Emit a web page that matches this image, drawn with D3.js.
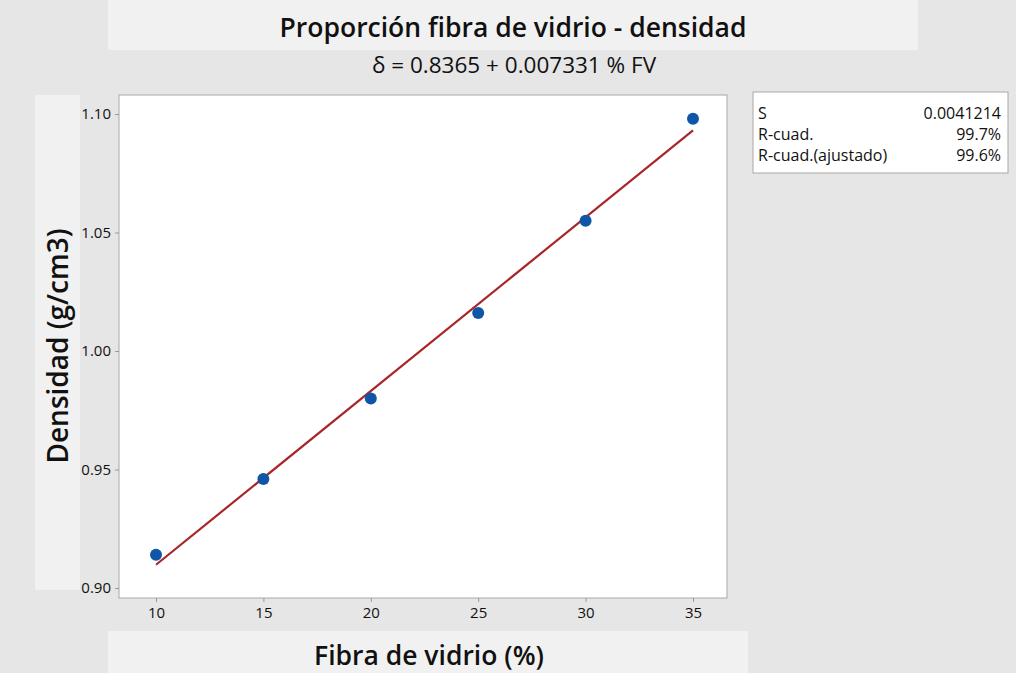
<!DOCTYPE html>
<html>
<head>
<meta charset="utf-8">
<script src="https://cdn.jsdelivr.net/npm/d3@7"></script>
<style>
  html, body { margin: 0; padding: 0; background: #e6e6e6; }
  svg { display: block; }
  text { font-family: "Open Sans", "Noto Sans", sans-serif; }
</style>
</head>
<body>
<svg id="chart" width="1016" height="673"></svg>
<script>
// Fibre-glass proportion (%) and measured density (g/cm3)
const fibra = [10, 15, 20, 25, 30, 35];
const densidad = [0.914, 0.946, 0.980, 1.016, 1.055, 1.098];

// Fitted regression line: δ = b0 + b1 · %FV
const b0 = 0.8365;
const b1 = 0.007331;

const xTicks = [10, 15, 20, 25, 30, 35];
const yTicks = [0.90, 0.95, 1.00, 1.05, 1.10];

const statLabels = ["S", "R-cuad.", "R-cuad.(ajustado)"];
const statValues = ["0.0041214", "99.7%", "99.6%"];

const W = 1016, H = 673;
const plot = { left: 119, right: 727, top: 95, bottom: 598 };

const svg = d3.select("#chart");

// background bands
svg.append("rect").attr("x", 0).attr("y", 0).attr("width", W).attr("height", H).attr("fill", "#e6e6e6");
svg.append("rect").attr("x", 108).attr("y", 0).attr("width", 810).attr("height", 50).attr("fill", "#f1f1f1");
svg.append("rect").attr("x", 35).attr("y", 95).attr("width", 45).attr("height", 495).attr("fill", "#f1f1f1");
svg.append("rect").attr("x", 108).attr("y", 631).attr("width", 640).attr("height", 42).attr("fill", "#f1f1f1");

// plot area
svg.append("rect")
  .attr("x", plot.left).attr("y", plot.top)
  .attr("width", plot.right - plot.left).attr("height", plot.bottom - plot.top)
  .attr("fill", "#ffffff").attr("stroke", "#a8a8a8").attr("stroke-width", 1);

const x = d3.scaleLinear().domain([10, 35]).range([156, 693]);
const y = d3.scaleLinear().domain([0.90, 1.10]).range([588, 114]);

// axes
const xAxis = svg.append("g")
  .attr("transform", `translate(0,${plot.bottom})`)
  .call(d3.axisBottom(x).tickValues(xTicks).tickSize(4).tickPadding(5).tickFormat(d3.format("d")));
const yAxis = svg.append("g")
  .attr("transform", `translate(${plot.left},0)`)
  .call(d3.axisLeft(y).tickValues(yTicks).tickSize(4).tickPadding(4).tickFormat(d3.format(".2f")));
[xAxis, yAxis].forEach(g => {
  g.select(".domain").remove();
  g.selectAll(".tick line").attr("stroke", "#9a9a9a");
  g.selectAll(".tick text").attr("fill", "#111").style("font-size", "15px");
});

// regression line
const fitLine = d3.line().x(d => x(d)).y(d => y(b0 + b1 * d));
svg.append("path")
  .datum([d3.min(fibra), d3.max(fibra)])
  .attr("d", fitLine)
  .attr("fill", "none").attr("stroke", "#a8262a").attr("stroke-width", 2.2);

// observations
svg.append("g").selectAll("circle")
  .data(fibra.map((f, i) => [f, densidad[i]]))
  .join("circle")
  .attr("cx", d => x(d[0])).attr("cy", d => y(d[1]))
  .attr("r", 6).attr("fill", "#0f56a8");

// titles
svg.append("text").attr("x", 513).attr("y", 37).attr("text-anchor", "middle")
  .style("font-size", "26.5px").style("font-weight", "600").attr("fill", "#111")
  .text("Proporción fibra de vidrio - densidad");
svg.append("text").attr("x", 514).attr("y", 73).attr("text-anchor", "middle")
  .style("font-size", "22.5px").attr("fill", "#111")
  .text("δ = 0.8365 + 0.007331 % FV");

svg.append("text").attr("x", 429).attr("y", 665).attr("text-anchor", "middle")
  .style("font-size", "26.5px").style("font-weight", "600").attr("fill", "#111")
  .text("Fibra de vidrio (%)");

svg.append("text")
  .attr("transform", "translate(68,346) rotate(-90)")
  .attr("text-anchor", "middle")
  .style("font-size", "28px").style("font-weight", "600").attr("fill", "#111")
  .text("Densidad (g/cm3)");

// statistics box
const box = svg.append("g").attr("transform", "translate(753,92)");
box.append("rect").attr("width", 255).attr("height", 81)
  .attr("fill", "#fff").attr("stroke", "#a8a8a8");
statLabels.forEach((s, i) => {
  box.append("text").attr("x", 5).attr("y", 27 + i * 21)
    .style("font-size", "16px").attr("fill", "#111").text(s);
  box.append("text").attr("x", 248).attr("y", 27 + i * 21).attr("text-anchor", "end")
    .style("font-size", "16px").attr("fill", "#111").text(statValues[i]);
});
</script>
</body>
</html>
